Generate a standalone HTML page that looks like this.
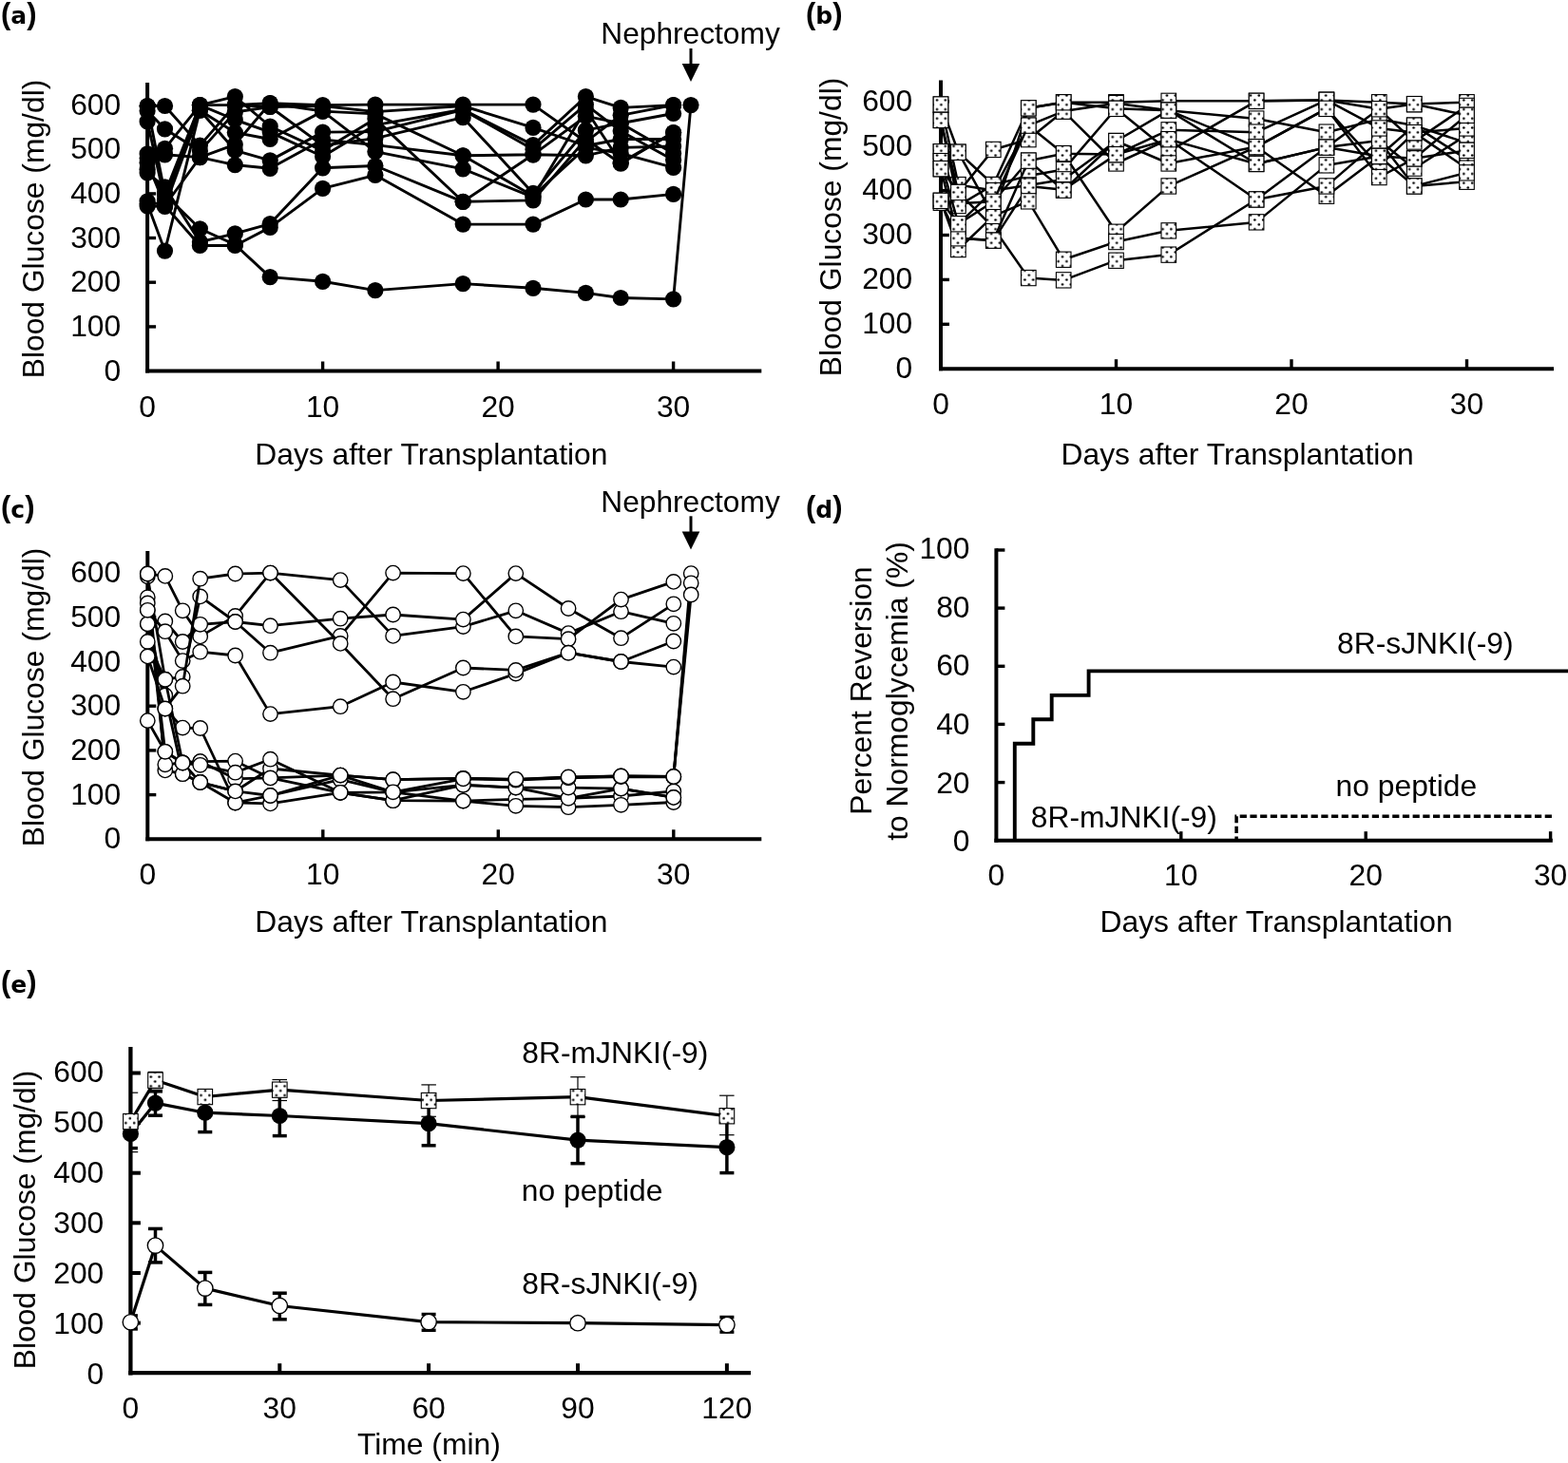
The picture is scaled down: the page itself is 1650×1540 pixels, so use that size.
<!DOCTYPE html>
<html><head><meta charset="utf-8"><title>Figure</title>
<style>
html,body{margin:0;padding:0;background:#fff;}
svg{display:block;}
text{font-family:"Liberation Sans",Arial,sans-serif;fill:#000;}
.sq{fill:url(#dots);stroke:#000;stroke-width:1.1;}
.pp{font-family:"Liberation Sans",sans-serif;font-size:31px;font-weight:bold;}
.pl{font-family:"DejaVu Sans","Liberation Sans",sans-serif;font-weight:bold;font-size:25px;}
</style></head><body>
<svg width="1650" height="1540" viewBox="0 0 1650 1540">
<defs>
<pattern id="dots" patternUnits="userSpaceOnUse" x="7.0" y="5.95" width="8.8" height="9.7">
<rect width="8.8" height="9.7" fill="#fff"/>
<ellipse cx="2.2" cy="2.4" rx="1.3" ry="1.15" fill="#000"/><ellipse cx="6.6" cy="7.25" rx="1.3" ry="1.15" fill="#000"/>
</pattern>
</defs>
<rect width="1650" height="1540" fill="#fff"/>
<text x="1.0" y="25.0" class="pl"><tspan class="pp" dy="-0.5">(</tspan><tspan dy="0.5">a</tspan><tspan class="pp" dy="-0.5">)</tspan></text>
<text transform="translate(45.5,241.0) rotate(-90)" text-anchor="middle" font-size="31.8">Blood Glucose (mg/dl)</text>
<text x="268.3" y="488.7" text-anchor="start" font-size="31.8" >Days after Transplantation</text>
<text x="632.3" y="46.0" text-anchor="start" font-size="31.7" >Nephrectomy</text>
<line x1="727.0" y1="51.0" x2="727.0" y2="70.0" stroke="#000" stroke-width="3.0" />
<polygon points="717.7,67.0 736.3,67.0 727.0,86.0" fill="#000"/>
<polyline points="155.1,111.5 173.5,111.5 210.4,153.1 247.3,110.6 284.2,108.7 339.6,110.6 394.9,110.1 487.2,110.1 561.0,110.1 616.4,149.3 653.2,121.3 708.6,110.6" fill="none" stroke="#000" stroke-width="2.9" stroke-linejoin="round" />
<polyline points="155.1,116.7 173.5,135.8 210.4,159.1 247.3,118.1 284.2,112.5 339.6,111.5 394.9,117.6 487.2,111.5 561.0,134.4 616.4,153.5 653.2,146.5 708.6,146.5" fill="none" stroke="#000" stroke-width="2.9" stroke-linejoin="round" />
<polyline points="155.1,127.9 173.5,210.9 210.4,110.6 247.3,101.7 284.2,133.0 339.6,158.6 394.9,125.1 487.2,212.3 561.0,162.8 616.4,163.8 653.2,155.4 708.6,154.0" fill="none" stroke="#000" stroke-width="2.9" stroke-linejoin="round" />
<polyline points="155.1,161.9 173.5,156.3 210.4,110.6 247.3,126.0 284.2,139.1 339.6,164.7 394.9,131.6 487.2,115.3 561.0,152.6 616.4,101.7 653.2,113.4 708.6,110.6" fill="none" stroke="#000" stroke-width="2.9" stroke-linejoin="round" />
<polyline points="155.1,166.6 173.5,162.8 210.4,165.6 247.3,152.1 284.2,108.7 339.6,117.1 394.9,119.9 487.2,163.8 561.0,162.8 616.4,122.3 653.2,129.7 708.6,119.5" fill="none" stroke="#000" stroke-width="2.9" stroke-linejoin="round" />
<polyline points="155.1,214.6 173.5,264.1 210.4,116.2 247.3,139.5 284.2,146.5 339.6,117.1 394.9,159.6 487.2,177.8 561.0,207.6 616.4,115.3 653.2,171.2 708.6,139.5" fill="none" stroke="#000" stroke-width="2.9" stroke-linejoin="round" />
<polyline points="155.1,217.0 173.5,217.4 210.4,116.2 247.3,158.2 284.2,168.9 339.6,139.1 394.9,138.6 487.2,115.7 561.0,157.2 616.4,110.1 653.2,138.1 708.6,168.4" fill="none" stroke="#000" stroke-width="2.9" stroke-linejoin="round" />
<polyline points="155.1,111.5 173.5,203.9 210.4,110.6 247.3,110.6 284.2,112.5 339.6,153.1 394.9,145.6 487.2,123.7 561.0,203.4 616.4,137.2 653.2,129.7 708.6,161.4" fill="none" stroke="#000" stroke-width="2.9" stroke-linejoin="round" />
<polyline points="155.1,171.2 173.5,216.5 210.4,165.6 247.3,173.6 284.2,177.3 339.6,147.0 394.9,152.6 487.2,163.8 561.0,206.2 616.4,155.4 653.2,161.4 708.6,176.4" fill="none" stroke="#000" stroke-width="2.9" stroke-linejoin="round" />
<polyline points="155.1,182.0 173.5,196.9 210.4,254.7 247.3,245.9 284.2,235.6 339.6,176.8 394.9,174.5 487.2,212.3 561.0,210.9 616.4,146.5 653.2,172.2 708.6,139.5" fill="none" stroke="#000" stroke-width="2.9" stroke-linejoin="round" />
<polyline points="155.1,211.8 173.5,216.5 210.4,258.5 247.3,258.5 284.2,239.4 339.6,198.3 394.9,184.3 487.2,236.1 561.0,236.1 616.4,210.0 653.2,210.0 708.6,204.4" fill="none" stroke="#000" stroke-width="2.9" stroke-linejoin="round" />
<polyline points="155.1,178.2 173.5,204.8 210.4,240.8 247.3,257.5 284.2,291.6 339.6,296.3 394.9,305.6 487.2,298.6 561.0,303.3 616.4,308.4 653.2,313.5 708.6,314.9 727.0,110.6" fill="none" stroke="#000" stroke-width="2.9" stroke-linejoin="round" />
<circle cx="155.1" cy="111.5" r="8.6" fill="#000"/>
<circle cx="173.5" cy="111.5" r="8.6" fill="#000"/>
<circle cx="210.4" cy="153.1" r="8.6" fill="#000"/>
<circle cx="247.3" cy="110.6" r="8.6" fill="#000"/>
<circle cx="284.2" cy="108.7" r="8.6" fill="#000"/>
<circle cx="339.6" cy="110.6" r="8.6" fill="#000"/>
<circle cx="394.9" cy="110.1" r="8.6" fill="#000"/>
<circle cx="487.2" cy="110.1" r="8.6" fill="#000"/>
<circle cx="561.0" cy="110.1" r="8.6" fill="#000"/>
<circle cx="616.4" cy="149.3" r="8.6" fill="#000"/>
<circle cx="653.2" cy="121.3" r="8.6" fill="#000"/>
<circle cx="708.6" cy="110.6" r="8.6" fill="#000"/>
<circle cx="155.1" cy="116.7" r="8.6" fill="#000"/>
<circle cx="173.5" cy="135.8" r="8.6" fill="#000"/>
<circle cx="210.4" cy="159.1" r="8.6" fill="#000"/>
<circle cx="247.3" cy="118.1" r="8.6" fill="#000"/>
<circle cx="284.2" cy="112.5" r="8.6" fill="#000"/>
<circle cx="339.6" cy="111.5" r="8.6" fill="#000"/>
<circle cx="394.9" cy="117.6" r="8.6" fill="#000"/>
<circle cx="487.2" cy="111.5" r="8.6" fill="#000"/>
<circle cx="561.0" cy="134.4" r="8.6" fill="#000"/>
<circle cx="616.4" cy="153.5" r="8.6" fill="#000"/>
<circle cx="653.2" cy="146.5" r="8.6" fill="#000"/>
<circle cx="708.6" cy="146.5" r="8.6" fill="#000"/>
<circle cx="155.1" cy="127.9" r="8.6" fill="#000"/>
<circle cx="173.5" cy="210.9" r="8.6" fill="#000"/>
<circle cx="210.4" cy="110.6" r="8.6" fill="#000"/>
<circle cx="247.3" cy="101.7" r="8.6" fill="#000"/>
<circle cx="284.2" cy="133.0" r="8.6" fill="#000"/>
<circle cx="339.6" cy="158.6" r="8.6" fill="#000"/>
<circle cx="394.9" cy="125.1" r="8.6" fill="#000"/>
<circle cx="487.2" cy="212.3" r="8.6" fill="#000"/>
<circle cx="561.0" cy="162.8" r="8.6" fill="#000"/>
<circle cx="616.4" cy="163.8" r="8.6" fill="#000"/>
<circle cx="653.2" cy="155.4" r="8.6" fill="#000"/>
<circle cx="708.6" cy="154.0" r="8.6" fill="#000"/>
<circle cx="155.1" cy="161.9" r="8.6" fill="#000"/>
<circle cx="173.5" cy="156.3" r="8.6" fill="#000"/>
<circle cx="210.4" cy="110.6" r="8.6" fill="#000"/>
<circle cx="247.3" cy="126.0" r="8.6" fill="#000"/>
<circle cx="284.2" cy="139.1" r="8.6" fill="#000"/>
<circle cx="339.6" cy="164.7" r="8.6" fill="#000"/>
<circle cx="394.9" cy="131.6" r="8.6" fill="#000"/>
<circle cx="487.2" cy="115.3" r="8.6" fill="#000"/>
<circle cx="561.0" cy="152.6" r="8.6" fill="#000"/>
<circle cx="616.4" cy="101.7" r="8.6" fill="#000"/>
<circle cx="653.2" cy="113.4" r="8.6" fill="#000"/>
<circle cx="708.6" cy="110.6" r="8.6" fill="#000"/>
<circle cx="155.1" cy="166.6" r="8.6" fill="#000"/>
<circle cx="173.5" cy="162.8" r="8.6" fill="#000"/>
<circle cx="210.4" cy="165.6" r="8.6" fill="#000"/>
<circle cx="247.3" cy="152.1" r="8.6" fill="#000"/>
<circle cx="284.2" cy="108.7" r="8.6" fill="#000"/>
<circle cx="339.6" cy="117.1" r="8.6" fill="#000"/>
<circle cx="394.9" cy="119.9" r="8.6" fill="#000"/>
<circle cx="487.2" cy="163.8" r="8.6" fill="#000"/>
<circle cx="561.0" cy="162.8" r="8.6" fill="#000"/>
<circle cx="616.4" cy="122.3" r="8.6" fill="#000"/>
<circle cx="653.2" cy="129.7" r="8.6" fill="#000"/>
<circle cx="708.6" cy="119.5" r="8.6" fill="#000"/>
<circle cx="155.1" cy="214.6" r="8.6" fill="#000"/>
<circle cx="173.5" cy="264.1" r="8.6" fill="#000"/>
<circle cx="210.4" cy="116.2" r="8.6" fill="#000"/>
<circle cx="247.3" cy="139.5" r="8.6" fill="#000"/>
<circle cx="284.2" cy="146.5" r="8.6" fill="#000"/>
<circle cx="339.6" cy="117.1" r="8.6" fill="#000"/>
<circle cx="394.9" cy="159.6" r="8.6" fill="#000"/>
<circle cx="487.2" cy="177.8" r="8.6" fill="#000"/>
<circle cx="561.0" cy="207.6" r="8.6" fill="#000"/>
<circle cx="616.4" cy="115.3" r="8.6" fill="#000"/>
<circle cx="653.2" cy="171.2" r="8.6" fill="#000"/>
<circle cx="708.6" cy="139.5" r="8.6" fill="#000"/>
<circle cx="155.1" cy="217.0" r="8.6" fill="#000"/>
<circle cx="173.5" cy="217.4" r="8.6" fill="#000"/>
<circle cx="210.4" cy="116.2" r="8.6" fill="#000"/>
<circle cx="247.3" cy="158.2" r="8.6" fill="#000"/>
<circle cx="284.2" cy="168.9" r="8.6" fill="#000"/>
<circle cx="339.6" cy="139.1" r="8.6" fill="#000"/>
<circle cx="394.9" cy="138.6" r="8.6" fill="#000"/>
<circle cx="487.2" cy="115.7" r="8.6" fill="#000"/>
<circle cx="561.0" cy="157.2" r="8.6" fill="#000"/>
<circle cx="616.4" cy="110.1" r="8.6" fill="#000"/>
<circle cx="653.2" cy="138.1" r="8.6" fill="#000"/>
<circle cx="708.6" cy="168.4" r="8.6" fill="#000"/>
<circle cx="155.1" cy="111.5" r="8.6" fill="#000"/>
<circle cx="173.5" cy="203.9" r="8.6" fill="#000"/>
<circle cx="210.4" cy="110.6" r="8.6" fill="#000"/>
<circle cx="247.3" cy="110.6" r="8.6" fill="#000"/>
<circle cx="284.2" cy="112.5" r="8.6" fill="#000"/>
<circle cx="339.6" cy="153.1" r="8.6" fill="#000"/>
<circle cx="394.9" cy="145.6" r="8.6" fill="#000"/>
<circle cx="487.2" cy="123.7" r="8.6" fill="#000"/>
<circle cx="561.0" cy="203.4" r="8.6" fill="#000"/>
<circle cx="616.4" cy="137.2" r="8.6" fill="#000"/>
<circle cx="653.2" cy="129.7" r="8.6" fill="#000"/>
<circle cx="708.6" cy="161.4" r="8.6" fill="#000"/>
<circle cx="155.1" cy="171.2" r="8.6" fill="#000"/>
<circle cx="173.5" cy="216.5" r="8.6" fill="#000"/>
<circle cx="210.4" cy="165.6" r="8.6" fill="#000"/>
<circle cx="247.3" cy="173.6" r="8.6" fill="#000"/>
<circle cx="284.2" cy="177.3" r="8.6" fill="#000"/>
<circle cx="339.6" cy="147.0" r="8.6" fill="#000"/>
<circle cx="394.9" cy="152.6" r="8.6" fill="#000"/>
<circle cx="487.2" cy="163.8" r="8.6" fill="#000"/>
<circle cx="561.0" cy="206.2" r="8.6" fill="#000"/>
<circle cx="616.4" cy="155.4" r="8.6" fill="#000"/>
<circle cx="653.2" cy="161.4" r="8.6" fill="#000"/>
<circle cx="708.6" cy="176.4" r="8.6" fill="#000"/>
<circle cx="155.1" cy="182.0" r="8.6" fill="#000"/>
<circle cx="173.5" cy="196.9" r="8.6" fill="#000"/>
<circle cx="210.4" cy="254.7" r="8.6" fill="#000"/>
<circle cx="247.3" cy="245.9" r="8.6" fill="#000"/>
<circle cx="284.2" cy="235.6" r="8.6" fill="#000"/>
<circle cx="339.6" cy="176.8" r="8.6" fill="#000"/>
<circle cx="394.9" cy="174.5" r="8.6" fill="#000"/>
<circle cx="487.2" cy="212.3" r="8.6" fill="#000"/>
<circle cx="561.0" cy="210.9" r="8.6" fill="#000"/>
<circle cx="616.4" cy="146.5" r="8.6" fill="#000"/>
<circle cx="653.2" cy="172.2" r="8.6" fill="#000"/>
<circle cx="708.6" cy="139.5" r="8.6" fill="#000"/>
<circle cx="155.1" cy="211.8" r="8.6" fill="#000"/>
<circle cx="173.5" cy="216.5" r="8.6" fill="#000"/>
<circle cx="210.4" cy="258.5" r="8.6" fill="#000"/>
<circle cx="247.3" cy="258.5" r="8.6" fill="#000"/>
<circle cx="284.2" cy="239.4" r="8.6" fill="#000"/>
<circle cx="339.6" cy="198.3" r="8.6" fill="#000"/>
<circle cx="394.9" cy="184.3" r="8.6" fill="#000"/>
<circle cx="487.2" cy="236.1" r="8.6" fill="#000"/>
<circle cx="561.0" cy="236.1" r="8.6" fill="#000"/>
<circle cx="616.4" cy="210.0" r="8.6" fill="#000"/>
<circle cx="653.2" cy="210.0" r="8.6" fill="#000"/>
<circle cx="708.6" cy="204.4" r="8.6" fill="#000"/>
<circle cx="155.1" cy="178.2" r="8.6" fill="#000"/>
<circle cx="173.5" cy="204.8" r="8.6" fill="#000"/>
<circle cx="210.4" cy="240.8" r="8.6" fill="#000"/>
<circle cx="247.3" cy="257.5" r="8.6" fill="#000"/>
<circle cx="284.2" cy="291.6" r="8.6" fill="#000"/>
<circle cx="339.6" cy="296.3" r="8.6" fill="#000"/>
<circle cx="394.9" cy="305.6" r="8.6" fill="#000"/>
<circle cx="487.2" cy="298.6" r="8.6" fill="#000"/>
<circle cx="561.0" cy="303.3" r="8.6" fill="#000"/>
<circle cx="616.4" cy="308.4" r="8.6" fill="#000"/>
<circle cx="653.2" cy="313.5" r="8.6" fill="#000"/>
<circle cx="708.6" cy="314.9" r="8.6" fill="#000"/>
<circle cx="727.0" cy="110.6" r="8.6" fill="#000"/>
<line x1="155.1" y1="87.0" x2="155.1" y2="392.5" stroke="#000" stroke-width="4.0" />
<line x1="153.1" y1="390.5" x2="801.3" y2="390.5" stroke="#000" stroke-width="4.0" />
<text x="155.1" y="438.6" text-anchor="middle" font-size="31.8" >0</text>
<line x1="339.6" y1="390.5" x2="339.6" y2="380.5" stroke="#000" stroke-width="3.4" />
<text x="339.6" y="438.6" text-anchor="middle" font-size="31.8" >10</text>
<line x1="524.1" y1="390.5" x2="524.1" y2="380.5" stroke="#000" stroke-width="3.4" />
<text x="524.1" y="438.6" text-anchor="middle" font-size="31.8" >20</text>
<line x1="708.6" y1="390.5" x2="708.6" y2="380.5" stroke="#000" stroke-width="3.4" />
<text x="708.6" y="438.6" text-anchor="middle" font-size="31.8" >30</text>
<text x="127.2" y="400.6" text-anchor="end" font-size="31.8" >0</text>
<line x1="155.1" y1="343.9" x2="164.1" y2="343.9" stroke="#000" stroke-width="3.4" />
<text x="127.2" y="354.0" text-anchor="end" font-size="31.8" >100</text>
<line x1="155.1" y1="297.2" x2="164.1" y2="297.2" stroke="#000" stroke-width="3.4" />
<text x="127.2" y="307.3" text-anchor="end" font-size="31.8" >200</text>
<line x1="155.1" y1="250.5" x2="164.1" y2="250.5" stroke="#000" stroke-width="3.4" />
<text x="127.2" y="260.6" text-anchor="end" font-size="31.8" >300</text>
<line x1="155.1" y1="203.9" x2="164.1" y2="203.9" stroke="#000" stroke-width="3.4" />
<text x="127.2" y="214.0" text-anchor="end" font-size="31.8" >400</text>
<line x1="155.1" y1="157.2" x2="164.1" y2="157.2" stroke="#000" stroke-width="3.4" />
<text x="127.2" y="167.4" text-anchor="end" font-size="31.8" >500</text>
<line x1="155.1" y1="110.6" x2="164.1" y2="110.6" stroke="#000" stroke-width="3.4" />
<text x="127.2" y="120.7" text-anchor="end" font-size="31.8" >600</text>
<text x="848.0" y="25.0" class="pl"><tspan class="pp" dy="-0.5">(</tspan><tspan dy="0.5">b</tspan><tspan class="pp" dy="-0.5">)</tspan></text>
<text transform="translate(885.0,239.0) rotate(-90)" text-anchor="middle" font-size="31.8">Blood Glucose (mg/dl)</text>
<text x="1116.5" y="488.7" text-anchor="start" font-size="31.8" >Days after Transplantation</text>
<line x1="990.0" y1="84.5" x2="990.0" y2="390.2" stroke="#000" stroke-width="4.0" />
<line x1="988.0" y1="388.2" x2="1635.0" y2="388.2" stroke="#000" stroke-width="4.0" />
<text x="990.0" y="435.8" text-anchor="middle" font-size="31.8" >0</text>
<line x1="1174.5" y1="388.2" x2="1174.5" y2="378.2" stroke="#000" stroke-width="3.4" />
<text x="1174.5" y="435.8" text-anchor="middle" font-size="31.8" >10</text>
<line x1="1359.0" y1="388.2" x2="1359.0" y2="378.2" stroke="#000" stroke-width="3.4" />
<text x="1359.0" y="435.8" text-anchor="middle" font-size="31.8" >20</text>
<line x1="1543.5" y1="388.2" x2="1543.5" y2="378.2" stroke="#000" stroke-width="3.4" />
<text x="1543.5" y="435.8" text-anchor="middle" font-size="31.8" >30</text>
<text x="960.2" y="398.0" text-anchor="end" font-size="31.8" >0</text>
<line x1="990.0" y1="341.3" x2="999.0" y2="341.3" stroke="#000" stroke-width="3.4" />
<text x="960.2" y="351.1" text-anchor="end" font-size="31.8" >100</text>
<line x1="990.0" y1="294.4" x2="999.0" y2="294.4" stroke="#000" stroke-width="3.4" />
<text x="960.2" y="304.2" text-anchor="end" font-size="31.8" >200</text>
<line x1="990.0" y1="247.5" x2="999.0" y2="247.5" stroke="#000" stroke-width="3.4" />
<text x="960.2" y="257.3" text-anchor="end" font-size="31.8" >300</text>
<line x1="990.0" y1="200.6" x2="999.0" y2="200.6" stroke="#000" stroke-width="3.4" />
<text x="960.2" y="210.4" text-anchor="end" font-size="31.8" >400</text>
<line x1="990.0" y1="153.7" x2="999.0" y2="153.7" stroke="#000" stroke-width="3.4" />
<text x="960.2" y="163.5" text-anchor="end" font-size="31.8" >500</text>
<line x1="990.0" y1="106.8" x2="999.0" y2="106.8" stroke="#000" stroke-width="3.4" />
<text x="960.2" y="116.6" text-anchor="end" font-size="31.8" >600</text>
<polyline points="990.0,110.1 1008.5,160.3 1045.3,194.5 1082.2,113.8 1119.2,107.7 1174.5,107.7 1229.8,106.3 1322.1,106.3 1395.9,105.4 1451.2,107.7 1488.2,109.6 1543.5,107.7" fill="none" stroke="#000" stroke-width="2.5" stroke-linejoin="round" />
<rect class="sq" x="982.2" y="101.9" width="15.6" height="16.3"/>
<rect class="sq" x="1000.6" y="152.1" width="15.6" height="16.3"/>
<rect class="sq" x="1037.5" y="186.4" width="15.6" height="16.3"/>
<rect class="sq" x="1074.5" y="105.7" width="15.6" height="16.3"/>
<rect class="sq" x="1111.4" y="99.6" width="15.6" height="16.3"/>
<rect class="sq" x="1166.7" y="99.6" width="15.6" height="16.3"/>
<rect class="sq" x="1222.0" y="98.2" width="15.6" height="16.3"/>
<rect class="sq" x="1314.3" y="98.2" width="15.6" height="16.3"/>
<rect class="sq" x="1388.1" y="97.2" width="15.6" height="16.3"/>
<rect class="sq" x="1443.5" y="99.6" width="15.6" height="16.3"/>
<rect class="sq" x="1480.4" y="101.5" width="15.6" height="16.3"/>
<rect class="sq" x="1535.7" y="99.6" width="15.6" height="16.3"/>
<polyline points="990.0,110.1 1008.5,194.5 1045.3,200.6 1082.2,132.1 1119.2,117.1 1174.5,172.0 1229.8,146.7 1322.1,210.0 1395.9,155.1 1451.2,114.8 1488.2,149.0 1543.5,111.5" fill="none" stroke="#000" stroke-width="2.5" stroke-linejoin="round" />
<rect class="sq" x="982.2" y="101.9" width="15.6" height="16.3"/>
<rect class="sq" x="1000.6" y="186.4" width="15.6" height="16.3"/>
<rect class="sq" x="1037.5" y="192.5" width="15.6" height="16.3"/>
<rect class="sq" x="1074.5" y="124.0" width="15.6" height="16.3"/>
<rect class="sq" x="1111.4" y="109.0" width="15.6" height="16.3"/>
<rect class="sq" x="1166.7" y="163.8" width="15.6" height="16.3"/>
<rect class="sq" x="1222.0" y="138.5" width="15.6" height="16.3"/>
<rect class="sq" x="1314.3" y="201.8" width="15.6" height="16.3"/>
<rect class="sq" x="1388.1" y="147.0" width="15.6" height="16.3"/>
<rect class="sq" x="1443.5" y="106.6" width="15.6" height="16.3"/>
<rect class="sq" x="1480.4" y="140.9" width="15.6" height="16.3"/>
<rect class="sq" x="1535.7" y="103.3" width="15.6" height="16.3"/>
<polyline points="990.0,126.5 1008.5,202.5 1045.3,157.5 1082.2,146.7 1119.2,117.1 1174.5,108.7 1229.8,116.2 1322.1,125.1 1395.9,139.2 1451.2,125.6 1488.2,132.1 1543.5,167.8" fill="none" stroke="#000" stroke-width="2.5" stroke-linejoin="round" />
<rect class="sq" x="982.2" y="118.3" width="15.6" height="16.3"/>
<rect class="sq" x="1000.6" y="194.3" width="15.6" height="16.3"/>
<rect class="sq" x="1037.5" y="149.3" width="15.6" height="16.3"/>
<rect class="sq" x="1074.5" y="138.5" width="15.6" height="16.3"/>
<rect class="sq" x="1111.4" y="109.0" width="15.6" height="16.3"/>
<rect class="sq" x="1166.7" y="100.5" width="15.6" height="16.3"/>
<rect class="sq" x="1222.0" y="108.0" width="15.6" height="16.3"/>
<rect class="sq" x="1314.3" y="116.9" width="15.6" height="16.3"/>
<rect class="sq" x="1388.1" y="131.0" width="15.6" height="16.3"/>
<rect class="sq" x="1443.5" y="117.4" width="15.6" height="16.3"/>
<rect class="sq" x="1480.4" y="124.0" width="15.6" height="16.3"/>
<rect class="sq" x="1535.7" y="159.6" width="15.6" height="16.3"/>
<polyline points="990.0,126.5 1008.5,214.2 1045.3,212.3 1082.2,169.2 1119.2,161.7 1174.5,244.2 1229.8,195.9 1322.1,154.6 1395.9,114.3 1451.2,174.8 1488.2,139.6 1543.5,177.2" fill="none" stroke="#000" stroke-width="2.5" stroke-linejoin="round" />
<rect class="sq" x="982.2" y="118.3" width="15.6" height="16.3"/>
<rect class="sq" x="1000.6" y="206.1" width="15.6" height="16.3"/>
<rect class="sq" x="1037.5" y="204.2" width="15.6" height="16.3"/>
<rect class="sq" x="1074.5" y="161.0" width="15.6" height="16.3"/>
<rect class="sq" x="1111.4" y="153.5" width="15.6" height="16.3"/>
<rect class="sq" x="1166.7" y="236.1" width="15.6" height="16.3"/>
<rect class="sq" x="1222.0" y="187.8" width="15.6" height="16.3"/>
<rect class="sq" x="1314.3" y="146.5" width="15.6" height="16.3"/>
<rect class="sq" x="1388.1" y="106.2" width="15.6" height="16.3"/>
<rect class="sq" x="1443.5" y="166.7" width="15.6" height="16.3"/>
<rect class="sq" x="1480.4" y="131.5" width="15.6" height="16.3"/>
<rect class="sq" x="1535.7" y="169.0" width="15.6" height="16.3"/>
<polyline points="990.0,159.8 1008.5,160.3 1045.3,227.3 1082.2,113.8 1119.2,107.7 1174.5,114.3 1229.8,159.3 1322.1,106.3 1395.9,105.4 1451.2,114.8 1488.2,109.6 1543.5,121.3" fill="none" stroke="#000" stroke-width="2.5" stroke-linejoin="round" />
<rect class="sq" x="982.2" y="151.6" width="15.6" height="16.3"/>
<rect class="sq" x="1000.6" y="152.1" width="15.6" height="16.3"/>
<rect class="sq" x="1037.5" y="219.2" width="15.6" height="16.3"/>
<rect class="sq" x="1074.5" y="105.7" width="15.6" height="16.3"/>
<rect class="sq" x="1111.4" y="99.6" width="15.6" height="16.3"/>
<rect class="sq" x="1166.7" y="106.2" width="15.6" height="16.3"/>
<rect class="sq" x="1222.0" y="151.2" width="15.6" height="16.3"/>
<rect class="sq" x="1314.3" y="98.2" width="15.6" height="16.3"/>
<rect class="sq" x="1388.1" y="97.2" width="15.6" height="16.3"/>
<rect class="sq" x="1443.5" y="106.6" width="15.6" height="16.3"/>
<rect class="sq" x="1480.4" y="101.5" width="15.6" height="16.3"/>
<rect class="sq" x="1535.7" y="113.2" width="15.6" height="16.3"/>
<polyline points="990.0,159.8 1008.5,216.5 1045.3,194.5 1082.2,185.1 1119.2,178.6 1174.5,114.3 1229.8,116.2 1322.1,154.6 1395.9,206.2 1451.2,164.5 1488.2,132.1 1543.5,150.4" fill="none" stroke="#000" stroke-width="2.5" stroke-linejoin="round" />
<rect class="sq" x="982.2" y="151.6" width="15.6" height="16.3"/>
<rect class="sq" x="1000.6" y="208.4" width="15.6" height="16.3"/>
<rect class="sq" x="1037.5" y="186.4" width="15.6" height="16.3"/>
<rect class="sq" x="1074.5" y="177.0" width="15.6" height="16.3"/>
<rect class="sq" x="1111.4" y="170.4" width="15.6" height="16.3"/>
<rect class="sq" x="1166.7" y="106.2" width="15.6" height="16.3"/>
<rect class="sq" x="1222.0" y="108.0" width="15.6" height="16.3"/>
<rect class="sq" x="1314.3" y="146.5" width="15.6" height="16.3"/>
<rect class="sq" x="1388.1" y="198.1" width="15.6" height="16.3"/>
<rect class="sq" x="1443.5" y="156.3" width="15.6" height="16.3"/>
<rect class="sq" x="1480.4" y="124.0" width="15.6" height="16.3"/>
<rect class="sq" x="1535.7" y="142.3" width="15.6" height="16.3"/>
<polyline points="990.0,169.6 1008.5,235.8 1045.3,200.6 1082.2,195.0 1119.2,188.9 1174.5,148.5 1229.8,116.2 1322.1,172.5 1395.9,155.1 1451.2,148.1 1488.2,177.2 1543.5,142.0" fill="none" stroke="#000" stroke-width="2.5" stroke-linejoin="round" />
<rect class="sq" x="982.2" y="161.5" width="15.6" height="16.3"/>
<rect class="sq" x="1000.6" y="227.6" width="15.6" height="16.3"/>
<rect class="sq" x="1037.5" y="192.5" width="15.6" height="16.3"/>
<rect class="sq" x="1074.5" y="186.8" width="15.6" height="16.3"/>
<rect class="sq" x="1111.4" y="180.7" width="15.6" height="16.3"/>
<rect class="sq" x="1166.7" y="140.4" width="15.6" height="16.3"/>
<rect class="sq" x="1222.0" y="108.0" width="15.6" height="16.3"/>
<rect class="sq" x="1314.3" y="164.3" width="15.6" height="16.3"/>
<rect class="sq" x="1388.1" y="147.0" width="15.6" height="16.3"/>
<rect class="sq" x="1443.5" y="139.9" width="15.6" height="16.3"/>
<rect class="sq" x="1480.4" y="169.0" width="15.6" height="16.3"/>
<rect class="sq" x="1535.7" y="133.8" width="15.6" height="16.3"/>
<polyline points="990.0,177.6 1008.5,202.5 1045.3,239.5 1082.2,292.5 1119.2,294.9 1174.5,274.2 1229.8,268.1 1322.1,210.0 1395.9,195.9 1451.2,148.1 1488.2,195.9 1543.5,191.2" fill="none" stroke="#000" stroke-width="2.5" stroke-linejoin="round" />
<rect class="sq" x="982.2" y="169.5" width="15.6" height="16.3"/>
<rect class="sq" x="1000.6" y="194.3" width="15.6" height="16.3"/>
<rect class="sq" x="1037.5" y="231.4" width="15.6" height="16.3"/>
<rect class="sq" x="1074.5" y="284.4" width="15.6" height="16.3"/>
<rect class="sq" x="1111.4" y="286.7" width="15.6" height="16.3"/>
<rect class="sq" x="1166.7" y="266.1" width="15.6" height="16.3"/>
<rect class="sq" x="1222.0" y="260.0" width="15.6" height="16.3"/>
<rect class="sq" x="1314.3" y="201.8" width="15.6" height="16.3"/>
<rect class="sq" x="1388.1" y="187.8" width="15.6" height="16.3"/>
<rect class="sq" x="1443.5" y="139.9" width="15.6" height="16.3"/>
<rect class="sq" x="1480.4" y="187.8" width="15.6" height="16.3"/>
<rect class="sq" x="1535.7" y="183.1" width="15.6" height="16.3"/>
<polyline points="990.0,177.6 1008.5,250.8 1045.3,253.1 1082.2,195.9 1119.2,199.7 1174.5,162.6 1229.8,136.8 1322.1,139.2 1395.9,105.4 1451.2,134.9 1488.2,139.6 1543.5,134.9" fill="none" stroke="#000" stroke-width="2.5" stroke-linejoin="round" />
<rect class="sq" x="982.2" y="169.5" width="15.6" height="16.3"/>
<rect class="sq" x="1000.6" y="242.6" width="15.6" height="16.3"/>
<rect class="sq" x="1037.5" y="245.0" width="15.6" height="16.3"/>
<rect class="sq" x="1074.5" y="187.8" width="15.6" height="16.3"/>
<rect class="sq" x="1111.4" y="191.5" width="15.6" height="16.3"/>
<rect class="sq" x="1166.7" y="154.5" width="15.6" height="16.3"/>
<rect class="sq" x="1222.0" y="128.7" width="15.6" height="16.3"/>
<rect class="sq" x="1314.3" y="131.0" width="15.6" height="16.3"/>
<rect class="sq" x="1388.1" y="97.2" width="15.6" height="16.3"/>
<rect class="sq" x="1443.5" y="126.8" width="15.6" height="16.3"/>
<rect class="sq" x="1480.4" y="131.5" width="15.6" height="16.3"/>
<rect class="sq" x="1535.7" y="126.8" width="15.6" height="16.3"/>
<polyline points="990.0,211.4 1008.5,262.5 1045.3,227.3 1082.2,211.9 1119.2,273.3 1174.5,254.5 1229.8,242.8 1322.1,233.9 1395.9,173.9 1451.2,164.5 1488.2,166.8 1543.5,121.3" fill="none" stroke="#000" stroke-width="2.5" stroke-linejoin="round" />
<rect class="sq" x="982.2" y="203.2" width="15.6" height="16.3"/>
<rect class="sq" x="1000.6" y="254.4" width="15.6" height="16.3"/>
<rect class="sq" x="1037.5" y="219.2" width="15.6" height="16.3"/>
<rect class="sq" x="1074.5" y="203.7" width="15.6" height="16.3"/>
<rect class="sq" x="1111.4" y="265.1" width="15.6" height="16.3"/>
<rect class="sq" x="1166.7" y="246.4" width="15.6" height="16.3"/>
<rect class="sq" x="1222.0" y="234.7" width="15.6" height="16.3"/>
<rect class="sq" x="1314.3" y="225.7" width="15.6" height="16.3"/>
<rect class="sq" x="1388.1" y="165.7" width="15.6" height="16.3"/>
<rect class="sq" x="1443.5" y="156.3" width="15.6" height="16.3"/>
<rect class="sq" x="1480.4" y="158.7" width="15.6" height="16.3"/>
<rect class="sq" x="1535.7" y="113.2" width="15.6" height="16.3"/>
<polyline points="990.0,213.3 1008.5,250.8 1045.3,253.1 1082.2,169.2 1119.2,200.1 1174.5,148.5 1229.8,172.0 1322.1,154.6 1395.9,114.3 1451.2,186.5 1488.2,166.8 1543.5,158.4" fill="none" stroke="#000" stroke-width="2.5" stroke-linejoin="round" />
<rect class="sq" x="982.2" y="205.1" width="15.6" height="16.3"/>
<rect class="sq" x="1000.6" y="242.6" width="15.6" height="16.3"/>
<rect class="sq" x="1037.5" y="245.0" width="15.6" height="16.3"/>
<rect class="sq" x="1074.5" y="161.0" width="15.6" height="16.3"/>
<rect class="sq" x="1111.4" y="192.0" width="15.6" height="16.3"/>
<rect class="sq" x="1166.7" y="140.4" width="15.6" height="16.3"/>
<rect class="sq" x="1222.0" y="163.8" width="15.6" height="16.3"/>
<rect class="sq" x="1314.3" y="146.5" width="15.6" height="16.3"/>
<rect class="sq" x="1388.1" y="106.2" width="15.6" height="16.3"/>
<rect class="sq" x="1443.5" y="178.4" width="15.6" height="16.3"/>
<rect class="sq" x="1480.4" y="158.7" width="15.6" height="16.3"/>
<rect class="sq" x="1535.7" y="150.2" width="15.6" height="16.3"/>
<polyline points="990.0,211.4 1008.5,235.8 1045.3,212.3 1082.2,132.1 1119.2,161.7 1174.5,162.6 1229.8,146.7 1322.1,172.5 1395.9,155.1 1451.2,164.5 1488.2,195.9 1543.5,181.8" fill="none" stroke="#000" stroke-width="2.5" stroke-linejoin="round" />
<rect class="sq" x="982.2" y="203.2" width="15.6" height="16.3"/>
<rect class="sq" x="1000.6" y="227.6" width="15.6" height="16.3"/>
<rect class="sq" x="1037.5" y="204.2" width="15.6" height="16.3"/>
<rect class="sq" x="1074.5" y="124.0" width="15.6" height="16.3"/>
<rect class="sq" x="1111.4" y="153.5" width="15.6" height="16.3"/>
<rect class="sq" x="1166.7" y="154.5" width="15.6" height="16.3"/>
<rect class="sq" x="1222.0" y="138.5" width="15.6" height="16.3"/>
<rect class="sq" x="1314.3" y="164.3" width="15.6" height="16.3"/>
<rect class="sq" x="1388.1" y="147.0" width="15.6" height="16.3"/>
<rect class="sq" x="1443.5" y="156.3" width="15.6" height="16.3"/>
<rect class="sq" x="1480.4" y="187.8" width="15.6" height="16.3"/>
<rect class="sq" x="1535.7" y="173.7" width="15.6" height="16.3"/>
<text x="1.0" y="544.5" class="pl"><tspan class="pp" dy="-0.5">(</tspan><tspan dy="0.5">c</tspan><tspan class="pp" dy="-0.5">)</tspan></text>
<text transform="translate(45.5,734.0) rotate(-90)" text-anchor="middle" font-size="31.8">Blood Glucose (mg/dl)</text>
<text x="268.3" y="981.2" text-anchor="start" font-size="31.8" >Days after Transplantation</text>
<text x="632.3" y="539.3" text-anchor="start" font-size="31.7" >Nephrectomy</text>
<line x1="727.0" y1="543.3" x2="727.0" y2="562.5" stroke="#000" stroke-width="3.0" />
<polygon points="717.7,559.5 736.3,559.5 727.0,578.5" fill="#000"/>
<line x1="155.3" y1="580.0" x2="155.3" y2="885.3" stroke="#000" stroke-width="4.0" />
<line x1="153.3" y1="883.3" x2="801.3" y2="883.3" stroke="#000" stroke-width="4.0" />
<text x="155.3" y="930.5" text-anchor="middle" font-size="31.8" >0</text>
<line x1="339.8" y1="883.3" x2="339.8" y2="873.3" stroke="#000" stroke-width="3.4" />
<text x="339.8" y="930.5" text-anchor="middle" font-size="31.8" >10</text>
<line x1="524.3" y1="883.3" x2="524.3" y2="873.3" stroke="#000" stroke-width="3.4" />
<text x="524.3" y="930.5" text-anchor="middle" font-size="31.8" >20</text>
<line x1="708.8" y1="883.3" x2="708.8" y2="873.3" stroke="#000" stroke-width="3.4" />
<text x="708.8" y="930.5" text-anchor="middle" font-size="31.8" >30</text>
<text x="127.2" y="893.3" text-anchor="end" font-size="31.8" >0</text>
<line x1="155.3" y1="836.6" x2="164.3" y2="836.6" stroke="#000" stroke-width="3.4" />
<text x="127.2" y="846.6" text-anchor="end" font-size="31.8" >100</text>
<line x1="155.3" y1="789.9" x2="164.3" y2="789.9" stroke="#000" stroke-width="3.4" />
<text x="127.2" y="799.9" text-anchor="end" font-size="31.8" >200</text>
<line x1="155.3" y1="743.2" x2="164.3" y2="743.2" stroke="#000" stroke-width="3.4" />
<text x="127.2" y="753.2" text-anchor="end" font-size="31.8" >300</text>
<line x1="155.3" y1="696.5" x2="164.3" y2="696.5" stroke="#000" stroke-width="3.4" />
<text x="127.2" y="706.5" text-anchor="end" font-size="31.8" >400</text>
<line x1="155.3" y1="649.8" x2="164.3" y2="649.8" stroke="#000" stroke-width="3.4" />
<text x="127.2" y="659.8" text-anchor="end" font-size="31.8" >500</text>
<line x1="155.3" y1="603.1" x2="164.3" y2="603.1" stroke="#000" stroke-width="3.4" />
<text x="127.2" y="613.1" text-anchor="end" font-size="31.8" >600</text>
<polyline points="155.3,642.3 173.8,746.0 192.2,766.1 210.7,766.5 247.6,845.0 284.5,845.9 358.2,834.3 413.6,842.7 487.4,843.1 542.8,841.3 598.1,840.3 653.5,838.0 708.8,832.9" fill="none" stroke="#000" stroke-width="2.8" stroke-linejoin="round" />
<circle cx="155.3" cy="642.3" r="7.7" fill="#fff" stroke="#000" stroke-width="1.4"/>
<circle cx="173.8" cy="746.0" r="7.7" fill="#fff" stroke="#000" stroke-width="1.4"/>
<circle cx="192.2" cy="766.1" r="7.7" fill="#fff" stroke="#000" stroke-width="1.4"/>
<circle cx="210.7" cy="766.5" r="7.7" fill="#fff" stroke="#000" stroke-width="1.4"/>
<circle cx="247.6" cy="845.0" r="7.7" fill="#fff" stroke="#000" stroke-width="1.4"/>
<circle cx="284.5" cy="845.9" r="7.7" fill="#fff" stroke="#000" stroke-width="1.4"/>
<circle cx="358.2" cy="834.3" r="7.7" fill="#fff" stroke="#000" stroke-width="1.4"/>
<circle cx="413.6" cy="842.7" r="7.7" fill="#fff" stroke="#000" stroke-width="1.4"/>
<circle cx="487.4" cy="843.1" r="7.7" fill="#fff" stroke="#000" stroke-width="1.4"/>
<circle cx="542.8" cy="841.3" r="7.7" fill="#fff" stroke="#000" stroke-width="1.4"/>
<circle cx="598.1" cy="840.3" r="7.7" fill="#fff" stroke="#000" stroke-width="1.4"/>
<circle cx="653.5" cy="838.0" r="7.7" fill="#fff" stroke="#000" stroke-width="1.4"/>
<circle cx="708.8" cy="832.9" r="7.7" fill="#fff" stroke="#000" stroke-width="1.4"/>
<polyline points="155.3,656.8 173.8,732.0 192.2,814.7 210.7,823.5 247.6,832.9 284.5,837.5 358.2,816.1 413.6,833.8 487.4,843.1 542.8,848.3 598.1,849.7 653.5,847.3 708.8,844.5" fill="none" stroke="#000" stroke-width="2.8" stroke-linejoin="round" />
<circle cx="155.3" cy="656.8" r="7.7" fill="#fff" stroke="#000" stroke-width="1.4"/>
<circle cx="173.8" cy="732.0" r="7.7" fill="#fff" stroke="#000" stroke-width="1.4"/>
<circle cx="192.2" cy="814.7" r="7.7" fill="#fff" stroke="#000" stroke-width="1.4"/>
<circle cx="210.7" cy="823.5" r="7.7" fill="#fff" stroke="#000" stroke-width="1.4"/>
<circle cx="247.6" cy="832.9" r="7.7" fill="#fff" stroke="#000" stroke-width="1.4"/>
<circle cx="284.5" cy="837.5" r="7.7" fill="#fff" stroke="#000" stroke-width="1.4"/>
<circle cx="358.2" cy="816.1" r="7.7" fill="#fff" stroke="#000" stroke-width="1.4"/>
<circle cx="413.6" cy="833.8" r="7.7" fill="#fff" stroke="#000" stroke-width="1.4"/>
<circle cx="487.4" cy="843.1" r="7.7" fill="#fff" stroke="#000" stroke-width="1.4"/>
<circle cx="542.8" cy="848.3" r="7.7" fill="#fff" stroke="#000" stroke-width="1.4"/>
<circle cx="598.1" cy="849.7" r="7.7" fill="#fff" stroke="#000" stroke-width="1.4"/>
<circle cx="653.5" cy="847.3" r="7.7" fill="#fff" stroke="#000" stroke-width="1.4"/>
<circle cx="708.8" cy="844.5" r="7.7" fill="#fff" stroke="#000" stroke-width="1.4"/>
<polyline points="155.3,606.8 173.8,715.2 192.2,803.0 210.7,823.5 247.6,845.0 284.5,837.5 358.2,820.7 413.6,833.8 487.4,826.3 542.8,829.1 598.1,840.3 653.5,830.1 708.8,839.4" fill="none" stroke="#000" stroke-width="2.8" stroke-linejoin="round" />
<circle cx="155.3" cy="606.8" r="7.7" fill="#fff" stroke="#000" stroke-width="1.4"/>
<circle cx="173.8" cy="715.2" r="7.7" fill="#fff" stroke="#000" stroke-width="1.4"/>
<circle cx="192.2" cy="803.0" r="7.7" fill="#fff" stroke="#000" stroke-width="1.4"/>
<circle cx="210.7" cy="823.5" r="7.7" fill="#fff" stroke="#000" stroke-width="1.4"/>
<circle cx="247.6" cy="845.0" r="7.7" fill="#fff" stroke="#000" stroke-width="1.4"/>
<circle cx="284.5" cy="837.5" r="7.7" fill="#fff" stroke="#000" stroke-width="1.4"/>
<circle cx="358.2" cy="820.7" r="7.7" fill="#fff" stroke="#000" stroke-width="1.4"/>
<circle cx="413.6" cy="833.8" r="7.7" fill="#fff" stroke="#000" stroke-width="1.4"/>
<circle cx="487.4" cy="826.3" r="7.7" fill="#fff" stroke="#000" stroke-width="1.4"/>
<circle cx="542.8" cy="829.1" r="7.7" fill="#fff" stroke="#000" stroke-width="1.4"/>
<circle cx="598.1" cy="840.3" r="7.7" fill="#fff" stroke="#000" stroke-width="1.4"/>
<circle cx="653.5" cy="830.1" r="7.7" fill="#fff" stroke="#000" stroke-width="1.4"/>
<circle cx="708.8" cy="839.4" r="7.7" fill="#fff" stroke="#000" stroke-width="1.4"/>
<polyline points="155.3,758.6 173.8,791.3 192.2,803.0 210.7,801.6 247.6,819.8 284.5,818.9 358.2,834.3 413.6,842.7 487.4,826.3 542.8,829.1 598.1,829.1 653.5,830.1 708.8,839.4" fill="none" stroke="#000" stroke-width="2.8" stroke-linejoin="round" />
<circle cx="155.3" cy="758.6" r="7.7" fill="#fff" stroke="#000" stroke-width="1.4"/>
<circle cx="173.8" cy="791.3" r="7.7" fill="#fff" stroke="#000" stroke-width="1.4"/>
<circle cx="192.2" cy="803.0" r="7.7" fill="#fff" stroke="#000" stroke-width="1.4"/>
<circle cx="210.7" cy="801.6" r="7.7" fill="#fff" stroke="#000" stroke-width="1.4"/>
<circle cx="247.6" cy="819.8" r="7.7" fill="#fff" stroke="#000" stroke-width="1.4"/>
<circle cx="284.5" cy="818.9" r="7.7" fill="#fff" stroke="#000" stroke-width="1.4"/>
<circle cx="358.2" cy="834.3" r="7.7" fill="#fff" stroke="#000" stroke-width="1.4"/>
<circle cx="413.6" cy="842.7" r="7.7" fill="#fff" stroke="#000" stroke-width="1.4"/>
<circle cx="487.4" cy="826.3" r="7.7" fill="#fff" stroke="#000" stroke-width="1.4"/>
<circle cx="542.8" cy="829.1" r="7.7" fill="#fff" stroke="#000" stroke-width="1.4"/>
<circle cx="598.1" cy="829.1" r="7.7" fill="#fff" stroke="#000" stroke-width="1.4"/>
<circle cx="653.5" cy="830.1" r="7.7" fill="#fff" stroke="#000" stroke-width="1.4"/>
<circle cx="708.8" cy="839.4" r="7.7" fill="#fff" stroke="#000" stroke-width="1.4"/>
<polyline points="155.3,604.0 173.8,810.9 192.2,814.7 210.7,823.5 247.6,832.9 284.5,809.0 358.2,816.1 413.6,820.7 487.4,819.3 542.8,820.3 598.1,818.4 653.5,817.0 708.8,817.5 727.2,603.6" fill="none" stroke="#000" stroke-width="2.8" stroke-linejoin="round" />
<circle cx="155.3" cy="604.0" r="7.7" fill="#fff" stroke="#000" stroke-width="1.4"/>
<circle cx="173.8" cy="810.9" r="7.7" fill="#fff" stroke="#000" stroke-width="1.4"/>
<circle cx="192.2" cy="814.7" r="7.7" fill="#fff" stroke="#000" stroke-width="1.4"/>
<circle cx="210.7" cy="823.5" r="7.7" fill="#fff" stroke="#000" stroke-width="1.4"/>
<circle cx="247.6" cy="832.9" r="7.7" fill="#fff" stroke="#000" stroke-width="1.4"/>
<circle cx="284.5" cy="809.0" r="7.7" fill="#fff" stroke="#000" stroke-width="1.4"/>
<circle cx="358.2" cy="816.1" r="7.7" fill="#fff" stroke="#000" stroke-width="1.4"/>
<circle cx="413.6" cy="820.7" r="7.7" fill="#fff" stroke="#000" stroke-width="1.4"/>
<circle cx="487.4" cy="819.3" r="7.7" fill="#fff" stroke="#000" stroke-width="1.4"/>
<circle cx="542.8" cy="820.3" r="7.7" fill="#fff" stroke="#000" stroke-width="1.4"/>
<circle cx="598.1" cy="818.4" r="7.7" fill="#fff" stroke="#000" stroke-width="1.4"/>
<circle cx="653.5" cy="817.0" r="7.7" fill="#fff" stroke="#000" stroke-width="1.4"/>
<circle cx="708.8" cy="817.5" r="7.7" fill="#fff" stroke="#000" stroke-width="1.4"/>
<circle cx="727.2" cy="603.6" r="7.7" fill="#fff" stroke="#000" stroke-width="1.4"/>
<polyline points="155.3,628.8 173.8,804.8 192.2,803.0 210.7,801.6 247.6,801.1 284.5,818.9 358.2,816.1 413.6,820.7 487.4,819.3 542.8,821.2 598.1,818.9 653.5,817.5 708.8,817.9 727.2,613.8" fill="none" stroke="#000" stroke-width="2.8" stroke-linejoin="round" />
<circle cx="155.3" cy="628.8" r="7.7" fill="#fff" stroke="#000" stroke-width="1.4"/>
<circle cx="173.8" cy="804.8" r="7.7" fill="#fff" stroke="#000" stroke-width="1.4"/>
<circle cx="192.2" cy="803.0" r="7.7" fill="#fff" stroke="#000" stroke-width="1.4"/>
<circle cx="210.7" cy="801.6" r="7.7" fill="#fff" stroke="#000" stroke-width="1.4"/>
<circle cx="247.6" cy="801.1" r="7.7" fill="#fff" stroke="#000" stroke-width="1.4"/>
<circle cx="284.5" cy="818.9" r="7.7" fill="#fff" stroke="#000" stroke-width="1.4"/>
<circle cx="358.2" cy="816.1" r="7.7" fill="#fff" stroke="#000" stroke-width="1.4"/>
<circle cx="413.6" cy="820.7" r="7.7" fill="#fff" stroke="#000" stroke-width="1.4"/>
<circle cx="487.4" cy="819.3" r="7.7" fill="#fff" stroke="#000" stroke-width="1.4"/>
<circle cx="542.8" cy="821.2" r="7.7" fill="#fff" stroke="#000" stroke-width="1.4"/>
<circle cx="598.1" cy="818.9" r="7.7" fill="#fff" stroke="#000" stroke-width="1.4"/>
<circle cx="653.5" cy="817.5" r="7.7" fill="#fff" stroke="#000" stroke-width="1.4"/>
<circle cx="708.8" cy="817.9" r="7.7" fill="#fff" stroke="#000" stroke-width="1.4"/>
<circle cx="727.2" cy="613.8" r="7.7" fill="#fff" stroke="#000" stroke-width="1.4"/>
<polyline points="155.3,634.9 173.8,791.3 192.2,803.0 210.7,805.3 247.6,813.2 284.5,799.2 358.2,834.3 413.6,833.8 487.4,819.8 542.8,820.3 598.1,817.9 653.5,817.0 708.8,817.5 727.2,626.0" fill="none" stroke="#000" stroke-width="2.8" stroke-linejoin="round" />
<circle cx="155.3" cy="634.9" r="7.7" fill="#fff" stroke="#000" stroke-width="1.4"/>
<circle cx="173.8" cy="791.3" r="7.7" fill="#fff" stroke="#000" stroke-width="1.4"/>
<circle cx="192.2" cy="803.0" r="7.7" fill="#fff" stroke="#000" stroke-width="1.4"/>
<circle cx="210.7" cy="805.3" r="7.7" fill="#fff" stroke="#000" stroke-width="1.4"/>
<circle cx="247.6" cy="813.2" r="7.7" fill="#fff" stroke="#000" stroke-width="1.4"/>
<circle cx="284.5" cy="799.2" r="7.7" fill="#fff" stroke="#000" stroke-width="1.4"/>
<circle cx="358.2" cy="834.3" r="7.7" fill="#fff" stroke="#000" stroke-width="1.4"/>
<circle cx="413.6" cy="833.8" r="7.7" fill="#fff" stroke="#000" stroke-width="1.4"/>
<circle cx="487.4" cy="819.8" r="7.7" fill="#fff" stroke="#000" stroke-width="1.4"/>
<circle cx="542.8" cy="820.3" r="7.7" fill="#fff" stroke="#000" stroke-width="1.4"/>
<circle cx="598.1" cy="817.9" r="7.7" fill="#fff" stroke="#000" stroke-width="1.4"/>
<circle cx="653.5" cy="817.0" r="7.7" fill="#fff" stroke="#000" stroke-width="1.4"/>
<circle cx="708.8" cy="817.5" r="7.7" fill="#fff" stroke="#000" stroke-width="1.4"/>
<circle cx="727.2" cy="626.0" r="7.7" fill="#fff" stroke="#000" stroke-width="1.4"/>
<polyline points="155.3,604.0 173.8,606.4 192.2,642.8 210.7,669.9 247.6,648.4 284.5,603.1 358.2,610.6 413.6,669.4 487.4,659.6 542.8,642.8 598.1,666.6 653.5,643.7 708.8,656.3" fill="none" stroke="#000" stroke-width="2.8" stroke-linejoin="round" />
<circle cx="155.3" cy="604.0" r="7.7" fill="#fff" stroke="#000" stroke-width="1.4"/>
<circle cx="173.8" cy="606.4" r="7.7" fill="#fff" stroke="#000" stroke-width="1.4"/>
<circle cx="192.2" cy="642.8" r="7.7" fill="#fff" stroke="#000" stroke-width="1.4"/>
<circle cx="210.7" cy="669.9" r="7.7" fill="#fff" stroke="#000" stroke-width="1.4"/>
<circle cx="247.6" cy="648.4" r="7.7" fill="#fff" stroke="#000" stroke-width="1.4"/>
<circle cx="284.5" cy="603.1" r="7.7" fill="#fff" stroke="#000" stroke-width="1.4"/>
<circle cx="358.2" cy="610.6" r="7.7" fill="#fff" stroke="#000" stroke-width="1.4"/>
<circle cx="413.6" cy="669.4" r="7.7" fill="#fff" stroke="#000" stroke-width="1.4"/>
<circle cx="487.4" cy="659.6" r="7.7" fill="#fff" stroke="#000" stroke-width="1.4"/>
<circle cx="542.8" cy="642.8" r="7.7" fill="#fff" stroke="#000" stroke-width="1.4"/>
<circle cx="598.1" cy="666.6" r="7.7" fill="#fff" stroke="#000" stroke-width="1.4"/>
<circle cx="653.5" cy="643.7" r="7.7" fill="#fff" stroke="#000" stroke-width="1.4"/>
<circle cx="708.8" cy="656.3" r="7.7" fill="#fff" stroke="#000" stroke-width="1.4"/>
<polyline points="155.3,675.5 173.8,715.2 192.2,712.4 210.7,627.9 247.6,654.5 284.5,687.2 358.2,669.4 413.6,603.1 487.4,603.6 542.8,669.9 598.1,672.7 653.5,631.1 708.8,612.4" fill="none" stroke="#000" stroke-width="2.8" stroke-linejoin="round" />
<circle cx="155.3" cy="675.5" r="7.7" fill="#fff" stroke="#000" stroke-width="1.4"/>
<circle cx="173.8" cy="715.2" r="7.7" fill="#fff" stroke="#000" stroke-width="1.4"/>
<circle cx="192.2" cy="712.4" r="7.7" fill="#fff" stroke="#000" stroke-width="1.4"/>
<circle cx="210.7" cy="627.9" r="7.7" fill="#fff" stroke="#000" stroke-width="1.4"/>
<circle cx="247.6" cy="654.5" r="7.7" fill="#fff" stroke="#000" stroke-width="1.4"/>
<circle cx="284.5" cy="687.2" r="7.7" fill="#fff" stroke="#000" stroke-width="1.4"/>
<circle cx="358.2" cy="669.4" r="7.7" fill="#fff" stroke="#000" stroke-width="1.4"/>
<circle cx="413.6" cy="603.1" r="7.7" fill="#fff" stroke="#000" stroke-width="1.4"/>
<circle cx="487.4" cy="603.6" r="7.7" fill="#fff" stroke="#000" stroke-width="1.4"/>
<circle cx="542.8" cy="669.9" r="7.7" fill="#fff" stroke="#000" stroke-width="1.4"/>
<circle cx="598.1" cy="672.7" r="7.7" fill="#fff" stroke="#000" stroke-width="1.4"/>
<circle cx="653.5" cy="631.1" r="7.7" fill="#fff" stroke="#000" stroke-width="1.4"/>
<circle cx="708.8" cy="612.4" r="7.7" fill="#fff" stroke="#000" stroke-width="1.4"/>
<polyline points="155.3,656.8 173.8,654.0 192.2,675.5 210.7,657.3 247.6,654.5 284.5,658.7 358.2,651.2 413.6,647.0 487.4,652.1 542.8,603.6 598.1,640.5 653.5,671.7 708.8,635.8" fill="none" stroke="#000" stroke-width="2.8" stroke-linejoin="round" />
<circle cx="155.3" cy="656.8" r="7.7" fill="#fff" stroke="#000" stroke-width="1.4"/>
<circle cx="173.8" cy="654.0" r="7.7" fill="#fff" stroke="#000" stroke-width="1.4"/>
<circle cx="192.2" cy="675.5" r="7.7" fill="#fff" stroke="#000" stroke-width="1.4"/>
<circle cx="210.7" cy="657.3" r="7.7" fill="#fff" stroke="#000" stroke-width="1.4"/>
<circle cx="247.6" cy="654.5" r="7.7" fill="#fff" stroke="#000" stroke-width="1.4"/>
<circle cx="284.5" cy="658.7" r="7.7" fill="#fff" stroke="#000" stroke-width="1.4"/>
<circle cx="358.2" cy="651.2" r="7.7" fill="#fff" stroke="#000" stroke-width="1.4"/>
<circle cx="413.6" cy="647.0" r="7.7" fill="#fff" stroke="#000" stroke-width="1.4"/>
<circle cx="487.4" cy="652.1" r="7.7" fill="#fff" stroke="#000" stroke-width="1.4"/>
<circle cx="542.8" cy="603.6" r="7.7" fill="#fff" stroke="#000" stroke-width="1.4"/>
<circle cx="598.1" cy="640.5" r="7.7" fill="#fff" stroke="#000" stroke-width="1.4"/>
<circle cx="653.5" cy="671.7" r="7.7" fill="#fff" stroke="#000" stroke-width="1.4"/>
<circle cx="708.8" cy="635.8" r="7.7" fill="#fff" stroke="#000" stroke-width="1.4"/>
<polyline points="155.3,642.3 173.8,664.7 192.2,695.6 210.7,686.2 247.6,690.0 284.5,751.6 358.2,743.7 413.6,718.0 487.4,728.3 542.8,709.1 598.1,687.2 653.5,696.5 708.8,702.1" fill="none" stroke="#000" stroke-width="2.8" stroke-linejoin="round" />
<circle cx="155.3" cy="642.3" r="7.7" fill="#fff" stroke="#000" stroke-width="1.4"/>
<circle cx="173.8" cy="664.7" r="7.7" fill="#fff" stroke="#000" stroke-width="1.4"/>
<circle cx="192.2" cy="695.6" r="7.7" fill="#fff" stroke="#000" stroke-width="1.4"/>
<circle cx="210.7" cy="686.2" r="7.7" fill="#fff" stroke="#000" stroke-width="1.4"/>
<circle cx="247.6" cy="690.0" r="7.7" fill="#fff" stroke="#000" stroke-width="1.4"/>
<circle cx="284.5" cy="751.6" r="7.7" fill="#fff" stroke="#000" stroke-width="1.4"/>
<circle cx="358.2" cy="743.7" r="7.7" fill="#fff" stroke="#000" stroke-width="1.4"/>
<circle cx="413.6" cy="718.0" r="7.7" fill="#fff" stroke="#000" stroke-width="1.4"/>
<circle cx="487.4" cy="728.3" r="7.7" fill="#fff" stroke="#000" stroke-width="1.4"/>
<circle cx="542.8" cy="709.1" r="7.7" fill="#fff" stroke="#000" stroke-width="1.4"/>
<circle cx="598.1" cy="687.2" r="7.7" fill="#fff" stroke="#000" stroke-width="1.4"/>
<circle cx="653.5" cy="696.5" r="7.7" fill="#fff" stroke="#000" stroke-width="1.4"/>
<circle cx="708.8" cy="702.1" r="7.7" fill="#fff" stroke="#000" stroke-width="1.4"/>
<polyline points="155.3,690.9 173.8,746.0 192.2,722.2 210.7,609.2 247.6,604.0 284.5,603.1 358.2,677.4 413.6,735.7 487.4,703.0 542.8,705.4 598.1,687.2 653.5,696.5 708.8,675.0" fill="none" stroke="#000" stroke-width="2.8" stroke-linejoin="round" />
<circle cx="155.3" cy="690.9" r="7.7" fill="#fff" stroke="#000" stroke-width="1.4"/>
<circle cx="173.8" cy="746.0" r="7.7" fill="#fff" stroke="#000" stroke-width="1.4"/>
<circle cx="192.2" cy="722.2" r="7.7" fill="#fff" stroke="#000" stroke-width="1.4"/>
<circle cx="210.7" cy="609.2" r="7.7" fill="#fff" stroke="#000" stroke-width="1.4"/>
<circle cx="247.6" cy="604.0" r="7.7" fill="#fff" stroke="#000" stroke-width="1.4"/>
<circle cx="284.5" cy="603.1" r="7.7" fill="#fff" stroke="#000" stroke-width="1.4"/>
<circle cx="358.2" cy="677.4" r="7.7" fill="#fff" stroke="#000" stroke-width="1.4"/>
<circle cx="413.6" cy="735.7" r="7.7" fill="#fff" stroke="#000" stroke-width="1.4"/>
<circle cx="487.4" cy="703.0" r="7.7" fill="#fff" stroke="#000" stroke-width="1.4"/>
<circle cx="542.8" cy="705.4" r="7.7" fill="#fff" stroke="#000" stroke-width="1.4"/>
<circle cx="598.1" cy="687.2" r="7.7" fill="#fff" stroke="#000" stroke-width="1.4"/>
<circle cx="653.5" cy="696.5" r="7.7" fill="#fff" stroke="#000" stroke-width="1.4"/>
<circle cx="708.8" cy="675.0" r="7.7" fill="#fff" stroke="#000" stroke-width="1.4"/>
<text x="848.0" y="544.5" class="pl"><tspan class="pp" dy="-0.5">(</tspan><tspan dy="0.5">d</tspan><tspan class="pp" dy="-0.5">)</tspan></text>
<text transform="translate(917.0,727.0) rotate(-90)" text-anchor="middle" font-size="31.8">Percent Reversion</text>
<text transform="translate(954.5,727.5) rotate(-90)" text-anchor="middle" font-size="31.8">to Normoglycemia (%)</text>
<text x="1157.5" y="981.2" text-anchor="start" font-size="31.8" >Days after Transplantation</text>
<text x="1407.0" y="687.5" text-anchor="start" font-size="31.8" >8R-sJNKI(-9)</text>
<text x="1405.6" y="838.3" text-anchor="start" font-size="31.8" >no peptide</text>
<text x="1084.8" y="871.0" text-anchor="start" font-size="31.8" >8R-mJNKI(-9)</text>
<line x1="1048.4" y1="577.3" x2="1048.4" y2="886.7" stroke="#000" stroke-width="4.0" />
<line x1="1046.4" y1="884.7" x2="1633.8" y2="884.7" stroke="#000" stroke-width="4.0" />
<text x="1048.4" y="932.3" text-anchor="middle" font-size="31.8" >0</text>
<line x1="1242.8" y1="884.7" x2="1242.8" y2="875.2" stroke="#000" stroke-width="3.4" />
<text x="1242.8" y="932.3" text-anchor="middle" font-size="31.8" >10</text>
<line x1="1437.2" y1="884.7" x2="1437.2" y2="875.2" stroke="#000" stroke-width="3.4" />
<text x="1437.2" y="932.3" text-anchor="middle" font-size="31.8" >20</text>
<line x1="1631.6" y1="884.7" x2="1631.6" y2="875.2" stroke="#000" stroke-width="3.4" />
<text x="1631.6" y="932.3" text-anchor="middle" font-size="31.8" >30</text>
<text x="1020.5" y="896.0" text-anchor="end" font-size="31.8" >0</text>
<line x1="1048.4" y1="823.6" x2="1057.4" y2="823.6" stroke="#000" stroke-width="3.4" />
<text x="1020.5" y="834.5" text-anchor="end" font-size="31.8" >20</text>
<line x1="1048.4" y1="762.4" x2="1057.4" y2="762.4" stroke="#000" stroke-width="3.4" />
<text x="1020.5" y="773.0" text-anchor="end" font-size="31.8" >40</text>
<line x1="1048.4" y1="701.3" x2="1057.4" y2="701.3" stroke="#000" stroke-width="3.4" />
<text x="1020.5" y="711.4" text-anchor="end" font-size="31.8" >60</text>
<line x1="1048.4" y1="640.1" x2="1057.4" y2="640.1" stroke="#000" stroke-width="3.4" />
<text x="1020.5" y="649.9" text-anchor="end" font-size="31.8" >80</text>
<line x1="1048.4" y1="579.0" x2="1057.4" y2="579.0" stroke="#000" stroke-width="3.4" />
<text x="1020.5" y="588.4" text-anchor="end" font-size="31.8" >100</text>
<polyline points="1067.8,884.7 1067.8,782.8 1087.3,782.8 1087.3,757.3 1106.7,757.3 1106.7,731.9 1145.6,731.9 1145.6,706.4 1650.0,706.4" fill="none" stroke="#000" stroke-width="3.9" stroke-linejoin="miter"/>
<polyline points="1301.1,884.7 1301.1,859.2 1636.0,859.2" fill="none" stroke="#000" stroke-width="3.5" stroke-dasharray="7.2 3.5" stroke-dashoffset="3"/>
<text x="1.0" y="1044.8" class="pl"><tspan class="pp" dy="-0.5">(</tspan><tspan dy="0.5">e</tspan><tspan class="pp" dy="-0.5">)</tspan></text>
<text transform="translate(37.0,1284.0) rotate(-90)" text-anchor="middle" font-size="31.8">Blood Glucose (mg/dl)</text>
<text x="376.0" y="1531.2" text-anchor="start" font-size="31.8" >Time (min)</text>
<text x="549.3" y="1119.3" text-anchor="start" font-size="31.8" >8R-mJNKI(-9)</text>
<text x="548.8" y="1263.5" text-anchor="start" font-size="31.8" >no peptide</text>
<text x="549.3" y="1362.3" text-anchor="start" font-size="31.8" >8R-sJNKI(-9)</text>
<line x1="137.4" y1="1102.0" x2="137.4" y2="1447.4" stroke="#000" stroke-width="4.3" />
<line x1="135.2" y1="1445.2" x2="790.0" y2="1445.2" stroke="#000" stroke-width="4.3" />
<text x="137.4" y="1492.8" text-anchor="middle" font-size="31.8" >0</text>
<line x1="294.3" y1="1445.2" x2="294.3" y2="1435.2" stroke="#000" stroke-width="4" />
<text x="294.3" y="1492.8" text-anchor="middle" font-size="31.8" >30</text>
<line x1="451.1" y1="1445.2" x2="451.1" y2="1435.2" stroke="#000" stroke-width="4" />
<text x="451.1" y="1492.8" text-anchor="middle" font-size="31.8" >60</text>
<line x1="608.0" y1="1445.2" x2="608.0" y2="1435.2" stroke="#000" stroke-width="4" />
<text x="608.0" y="1492.8" text-anchor="middle" font-size="31.8" >90</text>
<line x1="764.9" y1="1445.2" x2="764.9" y2="1435.2" stroke="#000" stroke-width="4" />
<text x="764.9" y="1492.8" text-anchor="middle" font-size="31.8" >120</text>
<text x="109.3" y="1456.7" text-anchor="end" font-size="31.8" >0</text>
<line x1="137.4" y1="1392.6" x2="147.9" y2="1392.6" stroke="#000" stroke-width="4" />
<text x="109.3" y="1403.7" text-anchor="end" font-size="31.8" >100</text>
<line x1="137.4" y1="1340.0" x2="147.9" y2="1340.0" stroke="#000" stroke-width="4" />
<text x="109.3" y="1350.8" text-anchor="end" font-size="31.8" >200</text>
<line x1="137.4" y1="1287.3" x2="147.9" y2="1287.3" stroke="#000" stroke-width="4" />
<text x="109.3" y="1297.8" text-anchor="end" font-size="31.8" >300</text>
<line x1="137.4" y1="1234.7" x2="147.9" y2="1234.7" stroke="#000" stroke-width="4" />
<text x="109.3" y="1244.8" text-anchor="end" font-size="31.8" >400</text>
<line x1="137.4" y1="1182.1" x2="147.9" y2="1182.1" stroke="#000" stroke-width="4" />
<text x="109.3" y="1191.8" text-anchor="end" font-size="31.8" >500</text>
<line x1="137.4" y1="1129.5" x2="147.9" y2="1129.5" stroke="#000" stroke-width="4" />
<text x="109.3" y="1138.9" text-anchor="end" font-size="31.8" >600</text>
<line x1="138.9" y1="1178.2" x2="144.9" y2="1178.2" stroke="#000" stroke-width="3.5" />
<line x1="138.9" y1="1208.6" x2="144.9" y2="1208.6" stroke="#000" stroke-width="3.5" />
<line x1="163.5" y1="1148.8" x2="163.5" y2="1174.2" stroke="#000" stroke-width="3.5" />
<line x1="156.0" y1="1148.8" x2="171.0" y2="1148.8" stroke="#000" stroke-width="3.5" />
<line x1="156.0" y1="1174.2" x2="171.0" y2="1174.2" stroke="#000" stroke-width="3.5" />
<line x1="215.8" y1="1150.7" x2="215.8" y2="1191.6" stroke="#000" stroke-width="3.5" />
<line x1="208.3" y1="1150.7" x2="223.3" y2="1150.7" stroke="#000" stroke-width="3.5" />
<line x1="208.3" y1="1191.6" x2="223.3" y2="1191.6" stroke="#000" stroke-width="3.5" />
<line x1="294.3" y1="1153.5" x2="294.3" y2="1195.6" stroke="#000" stroke-width="3.5" />
<line x1="286.8" y1="1153.5" x2="301.8" y2="1153.5" stroke="#000" stroke-width="3.5" />
<line x1="286.8" y1="1195.6" x2="301.8" y2="1195.6" stroke="#000" stroke-width="3.5" />
<line x1="451.1" y1="1159.7" x2="451.1" y2="1205.8" stroke="#000" stroke-width="3.5" />
<line x1="443.6" y1="1159.7" x2="458.6" y2="1159.7" stroke="#000" stroke-width="3.5" />
<line x1="443.6" y1="1205.8" x2="458.6" y2="1205.8" stroke="#000" stroke-width="3.5" />
<line x1="608.0" y1="1175.4" x2="608.0" y2="1224.7" stroke="#000" stroke-width="3.5" />
<line x1="600.5" y1="1175.4" x2="615.5" y2="1175.4" stroke="#000" stroke-width="3.5" />
<line x1="600.5" y1="1224.7" x2="615.5" y2="1224.7" stroke="#000" stroke-width="3.5" />
<line x1="764.9" y1="1180.7" x2="764.9" y2="1234.6" stroke="#000" stroke-width="3.5" />
<line x1="757.4" y1="1180.7" x2="772.4" y2="1180.7" stroke="#000" stroke-width="3.5" />
<line x1="757.4" y1="1234.6" x2="772.4" y2="1234.6" stroke="#000" stroke-width="3.5" />
<polyline points="137.4,1193.4 163.5,1161.1 215.8,1171.2 294.3,1174.5 451.1,1182.7 608.0,1200.1 764.9,1207.7" fill="none" stroke="#000" stroke-width="3.2" stroke-linejoin="round" />
<circle cx="137.4" cy="1193.4" r="8.6" fill="#000"/>
<circle cx="163.5" cy="1161.1" r="8.6" fill="#000"/>
<circle cx="215.8" cy="1171.2" r="8.6" fill="#000"/>
<circle cx="294.3" cy="1174.5" r="8.6" fill="#000"/>
<circle cx="451.1" cy="1182.7" r="8.6" fill="#000"/>
<circle cx="608.0" cy="1200.1" r="8.6" fill="#000"/>
<circle cx="764.9" cy="1207.7" r="8.6" fill="#000"/>
<line x1="138.9" y1="1150.2" x2="145.2" y2="1150.2" stroke="#000" stroke-width="1.2" />
<line x1="138.9" y1="1212.6" x2="145.2" y2="1212.6" stroke="#000" stroke-width="1.2" />
<line x1="163.5" y1="1128.4" x2="163.5" y2="1145.8" stroke="#000" stroke-width="1.2" />
<line x1="155.8" y1="1128.4" x2="171.3" y2="1128.4" stroke="#000" stroke-width="1.2" />
<line x1="155.8" y1="1145.8" x2="171.3" y2="1145.8" stroke="#000" stroke-width="1.2" />
<line x1="215.8" y1="1148.4" x2="215.8" y2="1160.5" stroke="#000" stroke-width="1.2" />
<line x1="208.1" y1="1148.4" x2="223.6" y2="1148.4" stroke="#000" stroke-width="1.2" />
<line x1="208.1" y1="1160.5" x2="223.6" y2="1160.5" stroke="#000" stroke-width="1.2" />
<line x1="294.3" y1="1136.5" x2="294.3" y2="1158.5" stroke="#000" stroke-width="1.2" />
<line x1="286.5" y1="1136.5" x2="302.0" y2="1136.5" stroke="#000" stroke-width="1.2" />
<line x1="286.5" y1="1158.5" x2="302.0" y2="1158.5" stroke="#000" stroke-width="1.2" />
<line x1="451.1" y1="1141.9" x2="451.1" y2="1175.3" stroke="#000" stroke-width="1.2" />
<line x1="443.4" y1="1141.9" x2="458.9" y2="1141.9" stroke="#000" stroke-width="1.2" />
<line x1="443.4" y1="1175.3" x2="458.9" y2="1175.3" stroke="#000" stroke-width="1.2" />
<line x1="608.0" y1="1133.7" x2="608.0" y2="1175.6" stroke="#000" stroke-width="1.2" />
<line x1="600.3" y1="1133.7" x2="615.8" y2="1133.7" stroke="#000" stroke-width="1.2" />
<line x1="600.3" y1="1175.6" x2="615.8" y2="1175.6" stroke="#000" stroke-width="1.2" />
<line x1="764.9" y1="1153.2" x2="764.9" y2="1194.7" stroke="#000" stroke-width="1.2" />
<line x1="757.1" y1="1153.2" x2="772.6" y2="1153.2" stroke="#000" stroke-width="1.2" />
<line x1="757.1" y1="1194.7" x2="772.6" y2="1194.7" stroke="#000" stroke-width="1.2" />
<polyline points="137.4,1180.5 163.5,1137.1 215.8,1154.5 294.3,1147.1 451.1,1158.5 608.0,1154.6 764.9,1174.7" fill="none" stroke="#000" stroke-width="3.2" stroke-linejoin="round" />
<rect class="sq" x="129.6" y="1172.4" width="15.6" height="16.3"/>
<rect class="sq" x="155.7" y="1129.0" width="15.6" height="16.3"/>
<rect class="sq" x="208.0" y="1146.4" width="15.6" height="16.3"/>
<rect class="sq" x="286.5" y="1139.0" width="15.6" height="16.3"/>
<rect class="sq" x="443.3" y="1150.4" width="15.6" height="16.3"/>
<rect class="sq" x="600.2" y="1146.5" width="15.6" height="16.3"/>
<rect class="sq" x="757.1" y="1166.6" width="15.6" height="16.3"/>
<line x1="138.9" y1="1384.9" x2="144.9" y2="1384.9" stroke="#000" stroke-width="3.5" />
<line x1="138.9" y1="1398.9" x2="144.9" y2="1398.9" stroke="#000" stroke-width="3.5" />
<line x1="163.5" y1="1293.4" x2="163.5" y2="1328.9" stroke="#000" stroke-width="3.5" />
<line x1="156.0" y1="1293.4" x2="171.0" y2="1293.4" stroke="#000" stroke-width="3.5" />
<line x1="156.0" y1="1328.9" x2="171.0" y2="1328.9" stroke="#000" stroke-width="3.5" />
<line x1="215.8" y1="1339.4" x2="215.8" y2="1373.4" stroke="#000" stroke-width="3.5" />
<line x1="208.3" y1="1339.4" x2="223.3" y2="1339.4" stroke="#000" stroke-width="3.5" />
<line x1="208.3" y1="1373.4" x2="223.3" y2="1373.4" stroke="#000" stroke-width="3.5" />
<line x1="294.3" y1="1361.2" x2="294.3" y2="1388.8" stroke="#000" stroke-width="3.5" />
<line x1="286.8" y1="1361.2" x2="301.8" y2="1361.2" stroke="#000" stroke-width="3.5" />
<line x1="286.8" y1="1388.8" x2="301.8" y2="1388.8" stroke="#000" stroke-width="3.5" />
<line x1="451.1" y1="1383.5" x2="451.1" y2="1400.3" stroke="#000" stroke-width="3.5" />
<line x1="443.6" y1="1383.5" x2="458.6" y2="1383.5" stroke="#000" stroke-width="3.5" />
<line x1="443.6" y1="1400.3" x2="458.6" y2="1400.3" stroke="#000" stroke-width="3.5" />
<line x1="608.0" y1="1388.9" x2="608.0" y2="1396.8" stroke="#000" stroke-width="3.5" />
<line x1="600.5" y1="1388.9" x2="615.5" y2="1388.9" stroke="#000" stroke-width="3.5" />
<line x1="600.5" y1="1396.8" x2="615.5" y2="1396.8" stroke="#000" stroke-width="3.5" />
<line x1="764.9" y1="1386.5" x2="764.9" y2="1402.1" stroke="#000" stroke-width="3.5" />
<line x1="757.4" y1="1386.5" x2="772.4" y2="1386.5" stroke="#000" stroke-width="3.5" />
<line x1="757.4" y1="1402.1" x2="772.4" y2="1402.1" stroke="#000" stroke-width="3.5" />
<polyline points="137.4,1391.8 163.5,1311.1 215.8,1356.1 294.3,1374.5 451.1,1391.6 608.0,1392.7 764.9,1394.6" fill="none" stroke="#000" stroke-width="3.2" stroke-linejoin="round" />
<circle cx="137.4" cy="1391.8" r="8.2" fill="#fff" stroke="#000" stroke-width="1.4"/>
<circle cx="163.5" cy="1311.1" r="8.2" fill="#fff" stroke="#000" stroke-width="1.4"/>
<circle cx="215.8" cy="1356.1" r="8.2" fill="#fff" stroke="#000" stroke-width="1.4"/>
<circle cx="294.3" cy="1374.5" r="8.2" fill="#fff" stroke="#000" stroke-width="1.4"/>
<circle cx="451.1" cy="1391.6" r="8.2" fill="#fff" stroke="#000" stroke-width="1.4"/>
<circle cx="608.0" cy="1392.7" r="8.2" fill="#fff" stroke="#000" stroke-width="1.4"/>
<circle cx="764.9" cy="1394.6" r="8.2" fill="#fff" stroke="#000" stroke-width="1.4"/>
</svg>
</body></html>
